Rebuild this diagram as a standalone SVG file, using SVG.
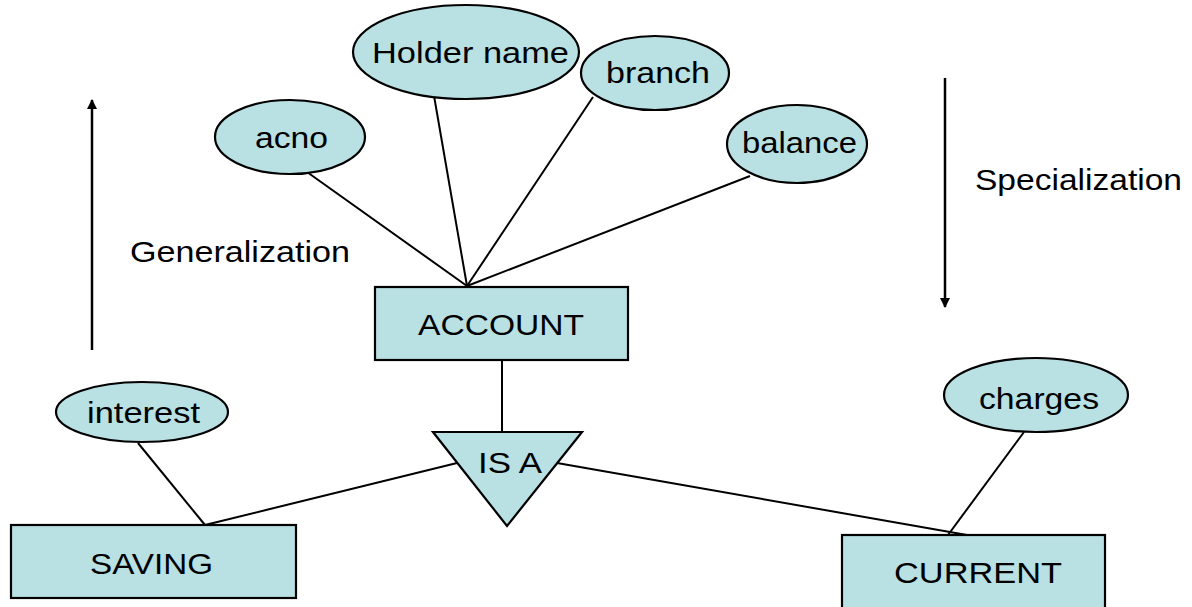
<svg xmlns="http://www.w3.org/2000/svg" width="1192" height="607" viewBox="0 0 1192 607">
  <defs>
    <style>
      .shape { fill: #B9E0E3; stroke: #000; stroke-width: 2.2; }
      .link { stroke: #000; stroke-width: 2; fill: none; }
      .dir { stroke: #000; stroke-width: 2.5; fill: none; }
      text { font-family: "Liberation Sans", Arial, sans-serif; font-size: 30px; fill: #000; }
    </style>
    <marker id="head" viewBox="0 0 10 10" refX="9" refY="5" markerWidth="4" markerHeight="4" orient="auto" markerUnits="strokeWidth">
      <path d="M0,0 L10,5 L0,10 Z" fill="#000"/>
    </marker>
  </defs>
  <rect width="1192" height="607" fill="#fff"/>

  <!-- connectors -->
  <g id="connectors">
    <line class="link" x1="307" y1="172" x2="467" y2="286"/>
    <line class="link" x1="433" y1="90" x2="467" y2="286"/>
    <line class="link" x1="593" y1="97" x2="467" y2="286"/>
    <line class="link" x1="750" y1="176" x2="467" y2="286"/>
    <line class="link" x1="502" y1="360" x2="502" y2="432"/>
    <line class="link" x1="457" y1="463" x2="205" y2="525"/>
    <line class="link" x1="557" y1="463" x2="967" y2="535"/>
    <line class="link" x1="138" y1="443" x2="205" y2="525"/>
    <line class="link" x1="1024" y1="432" x2="948" y2="535"/>
    <line class="dir" x1="92" y1="350" x2="92" y2="100" marker-end="url(#head)"/>
    <line class="dir" x1="945" y1="78" x2="945" y2="307" marker-end="url(#head)"/>
  </g>

  <g id="holder-name">
    <ellipse class="shape" cx="466" cy="52" rx="113" ry="47"/>
    <text x="372" y="63" textLength="197" lengthAdjust="spacingAndGlyphs">Holder name</text>
  </g>
  <g id="branch">
    <ellipse class="shape" cx="655" cy="73" rx="74" ry="37"/>
    <text x="606" y="83" textLength="104" lengthAdjust="spacingAndGlyphs">branch</text>
  </g>
  <g id="acno">
    <ellipse class="shape" cx="290" cy="137" rx="75" ry="37"/>
    <text x="255" y="148" textLength="73" lengthAdjust="spacingAndGlyphs">acno</text>
  </g>
  <g id="balance">
    <ellipse class="shape" cx="797" cy="144" rx="70" ry="39"/>
    <text x="742" y="153" textLength="115" lengthAdjust="spacingAndGlyphs">balance</text>
  </g>

  <g id="account">
    <rect class="shape" x="375" y="287" width="253" height="73"/>
    <text x="418" y="335" textLength="166" lengthAdjust="spacingAndGlyphs">ACCOUNT</text>
  </g>

  <g id="isa">
    <polygon class="shape" points="433,432 582,432 507,526"/>
    <text x="478" y="473" textLength="64" lengthAdjust="spacingAndGlyphs">IS A</text>
  </g>

  <g id="interest">
    <ellipse class="shape" cx="142" cy="412" rx="86" ry="30"/>
    <text x="87" y="423" textLength="113" lengthAdjust="spacingAndGlyphs">interest</text>
  </g>
  <g id="saving">
    <rect class="shape" x="11" y="525" width="285" height="73"/>
    <text x="90" y="574" textLength="123" lengthAdjust="spacingAndGlyphs">SAVING</text>
  </g>

  <g id="charges">
    <ellipse class="shape" cx="1036" cy="395" rx="92" ry="37"/>
    <text x="979" y="409" textLength="120" lengthAdjust="spacingAndGlyphs">charges</text>
  </g>
  <g id="current">
    <rect class="shape" x="842" y="535" width="263" height="76"/>
    <text x="894" y="583" textLength="168" lengthAdjust="spacingAndGlyphs">CURRENT</text>
  </g>

  <g id="labels">
    <text x="130" y="262" textLength="220" lengthAdjust="spacingAndGlyphs">Generalization</text>
    <text x="975" y="190" textLength="207" lengthAdjust="spacingAndGlyphs">Specialization</text>
  </g>
</svg>
